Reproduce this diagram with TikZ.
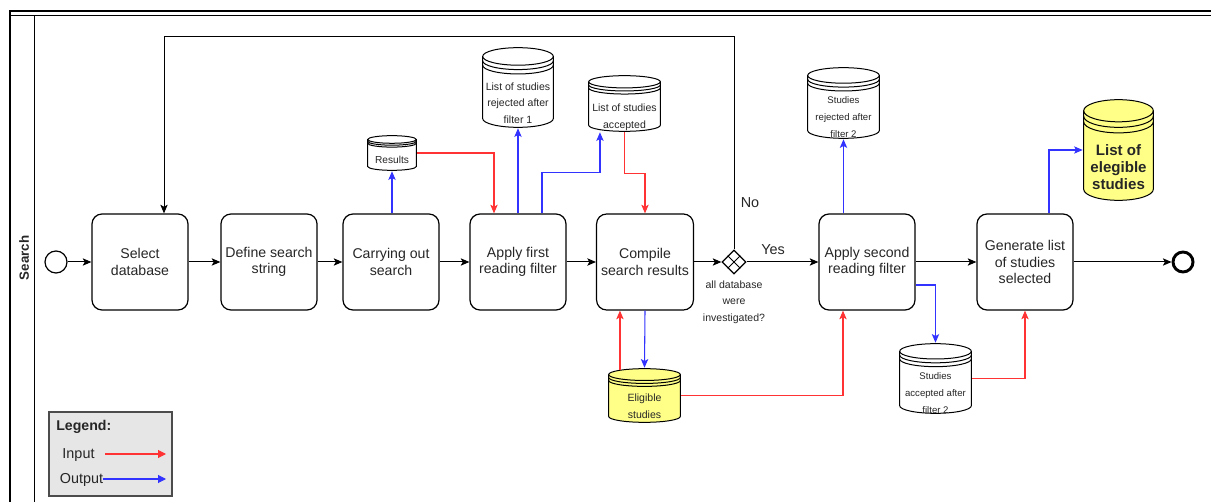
\documentclass[tikz,border=0pt]{standalone}
\usepackage{fontspec}
\setmainfont{Liberation Sans}
\usetikzlibrary{arrows.meta,shapes.geometric,calc}

\definecolor{inred}{HTML}{FF3333}
\definecolor{outblue}{HTML}{3333FF}
\definecolor{storeyellow}{HTML}{FFFF88}
\definecolor{legendgray}{HTML}{E6E6E6}

\begin{document}
\begin{tikzpicture}[x=0.75pt,y=-0.75pt,>={Stealth[length=6.5pt,width=5.5pt,inset=1.5pt]},
  task/.style={draw,rounded corners=7.5pt,minimum width=72pt,minimum height=72pt,
    align=center,line width=0.9pt,text=black!85,font=\fontsize{10.6}{12.5}\selectfont},
  flow/.style={->,line width=0.75pt},
  inarr/.style={->,inred,line width=0.8pt},
  outarr/.style={->,outblue,line width=0.8pt},
  store/.style={inner sep=0pt,path picture={
    \draw[line width=0.75pt,fill=#1]
      let \p1=([shift={(0.5pt,-0.5pt)}]path picture bounding box.north west),
          \p2=([shift={(-0.5pt,0.5pt)}]path picture bounding box.south east),
          \n1={(\x2-\x1)/2}, \n2={0.11*(\y1-\y2)} in
      (\x1,{\y1-\n2*1pt}) -- (\x1,{\y2+\n2*1pt})
      arc[start angle=180,end angle=360,x radius={\n1*1pt},y radius={\n2*1pt}]
      -- (\x2,{\y1-\n2*1pt})
      arc[start angle=0,end angle=180,x radius={\n1*1pt},y radius={\n2*1pt}] -- cycle;
    \draw[line width=0.75pt]
      let \p1=([shift={(0.5pt,-0.5pt)}]path picture bounding box.north west),
          \p2=([shift={(-0.5pt,0.5pt)}]path picture bounding box.south east),
          \n1={(\x2-\x1)/2}, \n2={0.11*(\y1-\y2)} in
      (\x1,{\y1-\n2*1pt}) arc[start angle=180,end angle=360,x radius={\n1*1pt},y radius={\n2*1pt}]
      (\x1,{\y1-1.5*\n2*1pt}) arc[start angle=180,end angle=360,x radius={\n1*1pt},y radius={\n2*1pt}]
      (\x1,{\y1-2*\n2*1pt}) arc[start angle=180,end angle=360,x radius={\n1*1pt},y radius={\n2*1pt}];
  }},
  store/.default=white,
  storetext/.style={align=center,inner sep=0pt,text=black!85,font=\fontsize{7.9}{12.5}\selectfont},
  smalltext/.style={align=center,inner sep=0pt,text=black!85,font=\fontsize{7.2}{12.5}\selectfont},
  labeltext/.style={inner sep=0pt,text=black!85,font=\fontsize{10.8}{12}\selectfont},
  legendarrow/.style={-{Triangle[length=6pt,width=6pt]},line width=0.8pt}]

\useasboundingbox (0,0) rectangle (1211,502);

% pool and lane
\draw[line width=1.6pt] (10,502) -- (10,11) -- (1211,11);
\draw[line width=0.8pt] (10,15.5) -- (1211,15.5);
\draw[line width=0.8pt] (34.5,15.5) -- (34.5,502);
\node[rotate=90,font=\bfseries\fontsize{10}{12}\selectfont,text=black!85] (lane) at (24,258) {Search};

% events and gateway
\node (start) at (56,262) [shape=circle,draw,line width=0.9pt,minimum size=16.5pt,inner sep=0pt] {};
\node (end) at (1183,262) [shape=circle,draw,line width=2.2pt,minimum size=15pt,inner sep=0pt] {};
\node (gw) at (734,262) [shape=diamond,draw,line width=0.9pt,minimum width=18pt,minimum height=18pt,inner sep=0pt] {};
\draw[line width=0.75pt] (gw.north west) -- (gw.south east) (gw.north east) -- (gw.south west);

% tasks
\node (select)   at (140,262) [task] {Select\\database};
\node (define)   at (269,262) [task] {Define search\\string};
\node (carry)    at (391,262) [task] {Carrying out\\search};
\node (first)    at (518,262) [task] {Apply first\\reading filter};
\node (compile)  at (645,262) [task] {Compile\\search results};
\node (second)   at (867,262) [task] {Apply second\\reading filter};
\node (generate) at (1025,262) [task] {Generate list\\of studies\\selected};

% data stores
\node (results)  at (392,153)     [store,minimum width=37.5pt,minimum height=27pt] {};
\node (rej1)     at (518,87.5)    [store,minimum width=54pt,minimum height=60.75pt] {};
\node (acc)      at (624.5,103.5) [store,minimum width=54.75pt,minimum height=42.75pt] {};
\node (rej2)     at (843.5,103)   [store,minimum width=54.75pt,minimum height=54pt] {};
\node (elegible) at (1118.5,150)  [store=storeyellow,minimum width=53.25pt,minimum height=76.5pt] {};
\node (elig)     at (644.5,395.5) [store=storeyellow,minimum width=54.75pt,minimum height=41.25pt] {};
\node (acc2)     at (935.5,378.5) [store,minimum width=54.75pt,minimum height=53.25pt] {};

\node (resultsT)  at (392,160)     [smalltext,font=\fontsize{7.6}{12.5}\selectfont] {Results};
\node (rej1T)     at (518,103)     [storetext] {List of studies\\rejected after\\filter 1};
\node (accT)      at (624.5,117.5) [storetext] {List of studies\\accepted};
\node (rej2T)     at (843.5,117)   [smalltext] {Studies\\rejected after\\filter 2};
\node (elegibleT) at (1118.5,167)  [storetext,font=\bfseries\fontsize{11.3}{12.5}\selectfont] {List of\\elegible\\studies};
\node (eligT)     at (644.5,406.5) [storetext] {Eligible\\studies};
\node (acc2T)     at (935.5,393)   [smalltext] {Studies\\accepted after\\filter 2};

% labels
\node (gwlabel) at (734,302) [storetext] {all database\\were\\investigated?};
\node (no)  at (750,203) [labeltext] {No};
\node (yes) at (773,250) [labeltext] {Yes};

% sequence flow
\draw[flow] (start) -- (select);
\draw[flow] (select) -- (define);
\draw[flow] (define) -- (carry);
\draw[flow] (carry) -- (first);
\draw[flow] (first) -- (compile);
\draw[flow] (compile) -- (gw);
\draw[flow] (gw) -- (second);
\draw[flow] (second) -- (generate);
\draw[flow] (generate) -- (end);
\coordinate (looptop) at (164,37);
\draw[flow] (gw.north) |- (looptop) -- (looptop |- select.north);

% outputs
\draw[outarr] (results.south |- carry.north) -- (results.south);
\draw[outarr] (first.north) -- (rej1.south);
\draw[outarr] ([xshift=18pt]first.north) -- ++(0,-41) -| ([xshift=-18.4pt]acc.south);
\draw[outarr] (compile.south) -- (elig.north);
\draw[outarr] (rej2.south |- second.north) -- (rej2.south);
\draw[outarr] ([yshift=-17.25pt]second.east) -| (acc2.north);
\draw[outarr] ([xshift=18pt]generate.north) |- (elegible.west);

% inputs
\draw[inarr] (results.east) -| ([xshift=-18pt]first.north);
\draw[inarr] (acc.south) -- ++(0,41) -| (compile.north);
\draw[inarr] ([xshift=-18.4pt,yshift=-2pt]elig.north) -- ([xshift=-18.4pt]elig.north |- compile.south);
\draw[inarr] (elig.east) -| ([xshift=-18pt]second.south);
\draw[inarr] (acc2.east) -| (generate.south);

% legend
\node (legend) at (110.5,454) [draw=black!70,fill=legendgray,line width=0.9pt,minimum width=92.25pt,minimum height=63pt] {};
\node (legendT) at (56,427) [anchor=west,inner sep=0pt,text=black!85,font=\bfseries\fontsize{10.6}{12}\selectfont] {Legend:};
\node (input)  at (78.5,455) [labeltext] {Input};
\node (output) at (81.5,480) [labeltext] {Output};
\coordinate (inStart) at (105,454);
\coordinate (inEnd) at (166,454);
\coordinate (outEnd) at (166,479);
\draw[legendarrow,inred] (inStart) -- (inEnd);
\draw[legendarrow,outblue] (output.east |- outEnd) -- (outEnd);
\end{tikzpicture}
\end{document}
